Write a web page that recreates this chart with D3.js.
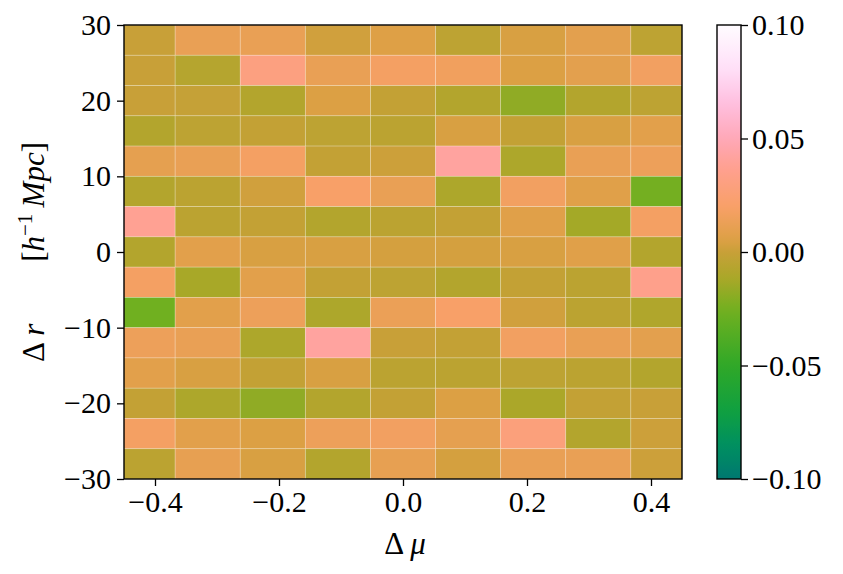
<!DOCTYPE html>
<html>
<head>
<meta charset="utf-8">
<script src="https://cdn.jsdelivr.net/npm/d3@7"></script>
<style>
  body { margin: 0; background: #fff; }
  text { font-family: "Liberation Serif", "DejaVu Serif", serif; fill: #000; }
</style>
</head>
<body>
<svg id="chart" width="843" height="574"></svg>
<script>
// column centres (Δμ) and row centres (Δr)
const xCenters = [-0.42, -0.315, -0.21, -0.105, 0, 0.105, 0.21, 0.315, 0.42]
const yCenters = [28, 24, 20, 16, 12, 8, 4, 0, -4, -8, -12, -16, -20, -24, -28]

// one row per Δr, top to bottom
const values = [
  [ 0.000,  0.012,  0.012,  0.002,  0.006, -0.004,  0.004,  0.009, -0.004],
  [ 0.000, -0.007,  0.030,  0.012,  0.018,  0.016,  0.005,  0.009,  0.017],
  [ 0.000, -0.001, -0.008,  0.005, -0.002, -0.008, -0.018, -0.008, -0.004],
  [-0.008, -0.004, -0.002, -0.004, -0.005,  0.004, -0.002,  0.004,  0.008],
  [ 0.010,  0.012,  0.018, -0.002,  0.001,  0.042, -0.010,  0.012,  0.014],
  [-0.008, -0.005,  0.002,  0.020,  0.012, -0.010,  0.017,  0.007, -0.025],
  [ 0.038, -0.005, -0.002, -0.008, -0.005, -0.002,  0.007, -0.013,  0.018],
  [-0.008,  0.008,  0.004,  0.004,  0.003,  0.003,  0.004,  0.007, -0.008],
  [ 0.018, -0.012,  0.008, -0.002, -0.004, -0.008, -0.002, -0.005,  0.035],
  [-0.026,  0.008,  0.014, -0.010,  0.013,  0.020,  0.002, -0.005, -0.009],
  [ 0.014,  0.012, -0.010,  0.042,  0.000, -0.002,  0.017,  0.012,  0.009],
  [ 0.008,  0.004, -0.002,  0.004, -0.005, -0.005, -0.004, -0.005, -0.008],
  [-0.002, -0.010, -0.018, -0.008, -0.002,  0.005, -0.011, -0.002,  0.000],
  [ 0.018,  0.008,  0.005,  0.014,  0.017,  0.010,  0.028, -0.008,  0.001],
  [-0.005,  0.011,  0.004, -0.008,  0.011,  0.003,  0.012,  0.012,  0.001]
]

const xTicks = [-0.4, -0.2, 0.0, 0.2, 0.4]
const yTicks = [-30, -20, -10, 0, 10, 20, 30]
const cTicks = [-0.1, -0.05, 0.0, 0.05, 0.1]

// colormap stops
const cmapStops = [-0.1, -0.085, -0.07, -0.05, -0.026, -0.012, 0.0, 0.005, 0.02, 0.037, 0.05, 0.066, 0.081, 0.1]
const cmapColors = ['#007870', '#009060', '#10a040', '#30a828', '#70b020', '#a8a828', '#c8a038',
                    '#dca044', '#f8a068', '#ffa090', '#ffa8b8', '#ffc0e0', '#ffe0f8', '#fffcff']

const svg = d3.select('#chart')
const plot = {left: 124, top: 25, right: 682, bottom: 479}
const cbar = {left: 717, right: 741}

const x = d3.scaleLinear().domain([-0.45, 0.45]).range([plot.left, plot.right])
const y = d3.scaleLinear().domain([-30, 30]).range([plot.bottom, plot.top])
const cy = d3.scaleLinear().domain([-0.1, 0.1]).range([plot.bottom, plot.top])
const color = d3.scaleLinear().domain(cmapStops).range(cmapColors).interpolate(d3.interpolateRgb).clamp(true)

// cell edges from centres
const edges = (c) => {
  const e = [c[0] - (c[1] - c[0]) / 2]
  for (let i = 0; i < c.length - 1; i++) e.push((c[i] + c[i + 1]) / 2)
  e.push(c[c.length - 1] + (c[c.length - 1] - c[c.length - 2]) / 2)
  return e
}
const xEdges = edges(xCenters)
const yEdges = edges(yCenters)

svg.append('clipPath').attr('id', 'clip')
  .append('rect')
  .attr('x', plot.left).attr('y', plot.top)
  .attr('width', plot.right - plot.left).attr('height', plot.bottom - plot.top)

const cells = []
values.forEach((row, i) => row.forEach((v, j) => cells.push({i, j, v})))

svg.append('g').attr('clip-path', 'url(#clip)')
  .selectAll('rect')
  .data(cells)
  .enter().append('rect')
  .attr('x', (d) => x(xEdges[d.j]))
  .attr('y', (d) => y(yEdges[d.i]))
  .attr('width', (d) => x(xEdges[d.j + 1]) - x(xEdges[d.j]))
  .attr('height', (d) => y(yEdges[d.i + 1]) - y(yEdges[d.i]))
  .attr('fill', (d) => color(d.v))
  .attr('stroke', 'rgba(255,255,255,0.28)')
  .attr('stroke-width', 0.8)

// axes
const minus = (s) => s.replace('-', '\u2212')
const xAxis = d3.axisBottom(x).tickValues(xTicks).tickSize(7).tickPadding(5)
  .tickFormat((d) => minus(d3.format('.1f')(d)))
const yAxis = d3.axisLeft(y).tickValues(yTicks).tickSize(7).tickPadding(6)
  .tickFormat((d) => minus(String(d)))

const gx = svg.append('g').attr('transform', `translate(0,${plot.bottom})`).call(xAxis)
const gy = svg.append('g').attr('transform', `translate(${plot.left},0)`).call(yAxis)
;[gx, gy].forEach((g) => {
  g.select('.domain').remove()
  g.selectAll('.tick line').attr('stroke', '#000').attr('stroke-width', 1.3)
  g.selectAll('.tick text').style('font-size', '30px')
})

svg.append('rect')
  .attr('x', plot.left).attr('y', plot.top)
  .attr('width', plot.right - plot.left).attr('height', plot.bottom - plot.top)
  .attr('fill', 'none').attr('stroke', '#000').attr('stroke-width', 1.4)

// colour bar
const defs = svg.append('defs')
const grad = defs.append('linearGradient').attr('id', 'cgrad')
  .attr('x1', 0).attr('y1', 1).attr('x2', 0).attr('y2', 0)
d3.range(0, 1.0001, 0.02).forEach((t) => {
  grad.append('stop').attr('offset', t).attr('stop-color', color(-0.1 + 0.2 * t))
})
svg.append('rect')
  .attr('x', cbar.left).attr('y', plot.top)
  .attr('width', cbar.right - cbar.left).attr('height', plot.bottom - plot.top)
  .attr('fill', 'url(#cgrad)')
  .attr('stroke', '#000').attr('stroke-width', 1.4)

const cAxis = d3.axisRight(cy).tickValues(cTicks).tickSize(7).tickPadding(4)
  .tickFormat((d) => minus(d3.format('.2f')(d)))
const gc = svg.append('g').attr('transform', `translate(${cbar.right},0)`).call(cAxis)
gc.select('.domain').remove()
gc.selectAll('.tick line').attr('stroke', '#000').attr('stroke-width', 1.3)
gc.selectAll('.tick text').style('font-size', '30px')

// axis labels
const xl = svg.append('text')
  .attr('x', 405).attr('y', 554)
  .attr('text-anchor', 'middle').style('font-size', '31px')
xl.append('tspan').text('\u0394\u2009')
xl.append('tspan').style('font-style', 'italic').text('\u03bc')

const yl = svg.append('text')
  .attr('transform', `translate(44,${(plot.top + plot.bottom) / 2}) rotate(-90)`)
  .attr('text-anchor', 'middle').style('font-size', '31px')
yl.append('tspan').text('\u0394\u2009')
yl.append('tspan').style('font-style', 'italic').text('r')
yl.append('tspan').text('\u2003\u2003[')
yl.append('tspan').style('font-style', 'italic').text('h')
yl.append('tspan').attr('dy', -12).style('font-size', '21px').text('\u22121')
yl.append('tspan').attr('dy', 12).text('\u2009')
yl.append('tspan').style('font-style', 'italic').text('Mpc')
yl.append('tspan').text(']')
</script>
</body>
</html>
